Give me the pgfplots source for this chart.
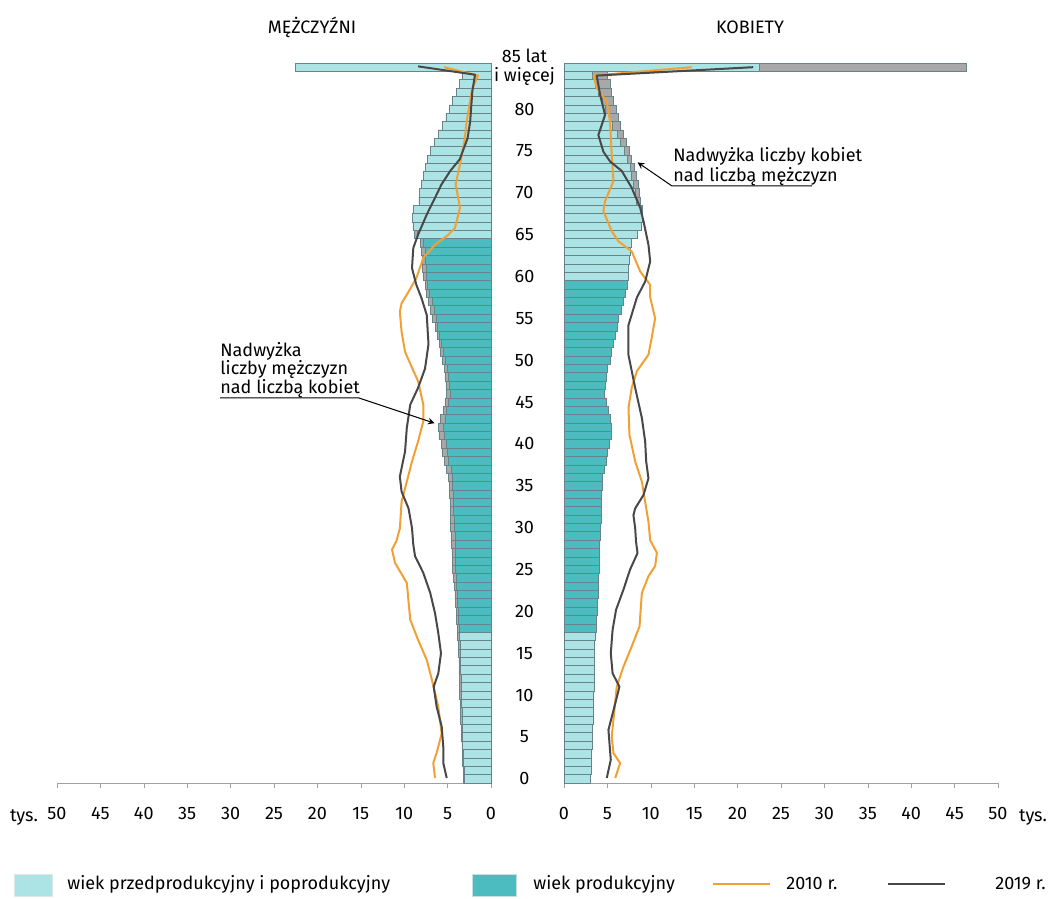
\documentclass[border=0pt]{standalone}
\usepackage{fontspec}
\setmainfont{Fira Sans}
\usepackage{pgfplots}
\usepackage{pgfplotstable}
\pgfplotsset{compat=1.18}

\definecolor{jasny}{RGB}{172,228,229}
\definecolor{morski}{RGB}{76,188,193}
\definecolor{nadwyzka}{RGB}{168,168,168}
\definecolor{obrys}{RGB}{105,132,136}
\definecolor{pom}{RGB}{240,160,52}
\definecolor{ciemny}{RGB}{72,72,72}
\definecolor{osie}{RGB}{160,160,160}

% age, men (M), women (W), common part C = min(M,W) -- tys.
\pgfplotstableread{
age M W C
0 3.15 3.05 3.05
1 3.2 3.1 3.1
2 3.25 3.15 3.15
3 3.3 3.2 3.2
4 3.35 3.25 3.25
5 3.4 3.3 3.3
6 3.45 3.3 3.3
7 3.5 3.35 3.35
8 3.5 3.35 3.35
9 3.55 3.4 3.4
10 3.6 3.4 3.4
11 3.6 3.45 3.45
12 3.65 3.45 3.45
13 3.7 3.5 3.5
14 3.7 3.5 3.5
15 3.75 3.55 3.55
16 3.8 3.55 3.55
17 3.85 3.6 3.6
18 3.9 3.7 3.7
19 3.95 3.75 3.75
20 4.0 3.8 3.8
21 4.1 3.85 3.85
22 4.15 3.9 3.9
23 4.25 3.95 3.95
24 4.3 4.0 4.0
25 4.4 4.05 4.05
26 4.45 4.05 4.05
27 4.5 4.1 4.1
28 4.55 4.1 4.1
29 4.6 4.15 4.15
30 4.65 4.2 4.2
31 4.65 4.25 4.25
32 4.7 4.3 4.3
33 4.7 4.3 4.3
34 4.8 4.35 4.35
35 4.8 4.4 4.4
36 4.9 4.45 4.45
37 5.1 4.6 4.6
38 5.4 4.9 4.9
39 5.6 5.05 5.05
40 5.7 5.2 5.2
41 6.0 5.4 5.4
42 6.1 5.45 5.45
43 5.8 5.3 5.3
44 5.5 5.1 5.1
45 5.3 4.9 4.9
46 5.1 4.7 4.7
47 5.2 4.8 4.8
48 5.3 4.9 4.9
49 5.4 5.05 5.05
50 5.6 5.3 5.3
51 5.8 5.5 5.5
52 5.95 5.7 5.7
53 6.2 5.95 5.95
54 6.45 6.15 6.15
55 6.7 6.3 6.3
56 7.0 6.55 6.55
57 7.2 6.8 6.8
58 7.4 7.1 7.1
59 7.6 7.3 7.3
60 7.8 7.4 7.4
61 7.9 7.45 7.45
62 7.95 7.55 7.55
63 8.0 7.6 7.6
64 8.1 7.8 7.8
65 8.8 8.5 8.5
66 9.0 8.95 8.95
67 9.1 9.05 9.05
68 8.9 9.0 8.9
69 8.3 8.8 8.3
70 8.2 8.7 8.2
71 8.0 8.6 8.0
72 7.8 8.3 7.8
73 7.6 8.1 7.6
74 7.3 7.8 7.3
75 7.0 7.5 7.0
76 6.5 7.2 6.5
77 6.1 6.85 6.1
78 5.6 6.5 5.6
79 5.2 6.3 5.2
80 4.8 6.0 4.8
81 4.4 5.7 4.4
82 4.0 5.5 4.0
83 3.6 5.3 3.6
84 3.3 5.0 3.3
85 22.5 46.3 22.5
}\pir

\pgfplotsset{
  piramida/.style={
    scale only axis, width=217pt, height=360pt,
    xmin=0, xmax=50, ymin=-0.5, ymax=85.5,
    clip=false,
    axis x line=bottom,
    axis line style={-, draw=osie},
    xtick={0,5,...,50},
    tick align=outside,
    major tick length=2.5pt,
    x tick style={draw=osie},
    /pgf/number format/assume math mode=true,
    tick label style={font=\fontsize{9}{10}\selectfont},
    xticklabel style={yshift=-6pt},
    /pgf/bar width=1,
    /pgf/bar shift=0pt,
  },
  slupek/.style={xbar, draw=obrys, line width=0.35pt, fill=#1},
  linia/.style={sharp plot, no marks, line width=1pt, line join=round, color=#1},
}

\begin{document}
\begin{tikzpicture}
\path[use as bounding box] (0,0) rectangle (528pt,449.5pt);

% MEN
\begin{axis}[piramida, at={(28.5pt,58pt)}, anchor=south west,
  x dir=reverse, axis y line=none]
  \addplot[slupek=nadwyzka] table[x=M, y=age]{\pir};
  \addplot[slupek=jasny, restrict y to domain=-1:17.5] table[x=C, y=age]{\pir};
  \addplot[slupek=morski, restrict y to domain=17.5:64.5] table[x=C, y=age]{\pir};
  \addplot[slupek=jasny, restrict y to domain=64.5:86] table[x=C, y=age]{\pir};
  % 2010
  \addplot[linia=pom] coordinates {
    (5.4,85) (1.5,84) (2.15,82.5) (2.8,78.5) (3.07,76.1) (3.57,73.4) (4.07,71)
    (3.57,68.2) (4.15,65.8) (4.9,65) (6.45,63.8) (7.8,62.2) (8.6,59.8) (9.6,58)
    (10.3,56.8) (10.5,55.8) (10.3,53.4) (9.9,51.0) (9.1,49.1) (8.4,47.5) (7.8,44.7)
    (7.8,42.7) (8.4,40.3) (9.1,37.9) (9.7,35.5) (10.3,33.1) (10.5,29.9) (10.9,28.4)
    (11.4,27.4) (11.06,25.8) (9.7,23.4) (9.3,19.0) (8.4,16.6) (7.4,14.2) (6.8,11.8)
    (6.07,8.6) (5.68,5.4) (6.26,3.1) (6.65,1.9) (6.45,0.1)
  };
  % 2019
  \addplot[linia=ciemny] coordinates {
    (8.4,85.1) (1.84,84.1) (2.15,82.1) (2.4,78.5) (2.7,76.5) (3.6,74) (4.7,72.6)
    (5.7,71) (6.45,69.4) (7.4,67.4) (8.4,65) (8.95,63.4) (9.1,61) (8.6,59) (8.0,57.4)
    (7.4,55.4) (7.2,51.9) (7.6,49) (8.4,46.7) (9.3,44.7) (9.7,41.9) (9.9,39.1)
    (10.5,36.1) (10.3,34.3) (9.5,32.3) (9.1,29.95) (8.95,27.96) (8.75,26.6) (7.8,24.6)
    (7.0,22.2) (6.45,19.8) (6.07,17.4) (5.76,15.0) (6.07,12.6) (6.6,11.0) (6.26,8.6)
    (5.68,6.25) (5.5,3.86) (5.5,1.9) (5.1,0.1)
  };
\end{axis}

% WOMEN
\begin{axis}[piramida, at={(282pt,58pt)}, anchor=south west,
  axis y line=left, y axis line style={draw=none}, y tick style={draw=none},
  ytick={0,5,...,85},
  yticklabels={0,5,10,15,20,25,30,35,40,45,50,55,60,65,70,75,80,{85 lat\\i więcej}},
  yticklabel style={align=center, anchor=center, xshift=-18.5pt,
    font=\fontsize{9}{9.5}\selectfont}]
  \addplot[slupek=nadwyzka] table[x=W, y=age]{\pir};
  \addplot[slupek=jasny, restrict y to domain=-1:17.5] table[x=C, y=age]{\pir};
  \addplot[slupek=morski, restrict y to domain=17.5:59.5] table[x=C, y=age]{\pir};
  \addplot[slupek=jasny, restrict y to domain=59.5:86] table[x=C, y=age]{\pir};
  % 2010
  \addplot[linia=pom] coordinates {
    (14.7,85) (3.4,84) (3.77,82.5) (4.93,80.9) (5.3,78.5) (5.5,74.5) (5.7,71.4)
    (4.73,69.0) (4.54,67.8) (5.5,65.4) (6.27,64.2) (7.8,63.0) (8.78,60.6) (9.93,59.0)
    (9.93,57.5) (10.5,55.0) (10.1,52.65) (9.73,50.66) (8.4,48.7) (7.8,46.7) (7.43,44.3)
    (7.54,41.1) (8.2,37.9) (8.97,35.5) (9.35,33.1) (9.73,30.7) (9.93,28.5) (10.7,27.0)
    (10.5,25.4) (9.73,24.2) (8.97,22.2) (8.7,18.2) (7.8,15.8) (6.85,13.4) (6.08,11.0)
    (5.77,7.8) (5.5,5.05) (5.7,3.07) (6.47,1.88) (5.9,0.1)
  };
  % 2019
  \addplot[linia=ciemny] coordinates {
    (21.8,85) (3.77,84) (4.16,81.7) (4.73,79.3) (3.96,76.9) (4.54,74.9) (5.3,73.75)
    (6.66,72.6) (7.8,70.6) (8.78,68.2) (9.16,66.6) (9.73,63.8) (9.93,61.8) (9.35,59.4)
    (8.4,57.5) (7.43,54.2) (7.43,50.6) (8.2,46.7) (8.97,43.1) (9.35,40.3) (9.47,37.9)
    (9.73,35.9) (9.16,33.9) (8.2,32.3) (8.0,31.5) (8.2,29.95) (8.3,28.3) (8.47,26.96)
    (7.6,24.97) (6.85,22.6) (6.0,20.2) (5.6,17.8) (5.39,15.0) (5.6,12.6) (6.39,11.0)
    (6.0,9.4) (5.12,5.85) (5.39,2.27) (4.93,0.1)
  };
\end{axis}

\begin{scope}[font=\fontsize{9}{10}\selectfont]
  % titles
  \node at (156pt,436pt) {MĘŻCZYŹNI};
  \node at (375pt,436pt) {KOBIETY};
  % unit
  \node at (12pt,40.5pt) {tys.};
  \node at (516.5pt,40.5pt) {tys.};
  % annotations
  \node[anchor=west, align=left, inner sep=0pt] at (336.5pt,366pt)
    {Nadwyżka liczby kobiet\\nad liczbą mężczyzn};
  \draw[line width=0.5pt, -stealth] (406pt,356.5pt) -- (336pt,356.5pt) -- (318.8pt,368.3pt);
  \node[anchor=west, align=left, inner sep=0pt, font=\fontsize{9}{9.3}\selectfont]
    at (110pt,264.5pt) {Nadwyżka\\liczby mężczyzn\\nad liczbą kobiet};
  \draw[line width=0.5pt, -stealth] (110pt,250.5pt) -- (179.5pt,250.5pt) -- (217.3pt,237.9pt);
  % legend
  \draw[draw=jasny!80!black!30, fill=jasny] (7pt,1.5pt) rectangle (26pt,12.5pt);
  \node[anchor=west, inner sep=0pt] at (33.5pt,7.5pt) {wiek przedprodukcyjny i poprodukcyjny};
  \draw[draw=morski!80!black!30, fill=morski] (236pt,1.5pt) rectangle (258pt,12.5pt);
  \node[anchor=west, inner sep=0pt] at (266.5pt,7.5pt) {wiek produkcyjny};
  \draw[pom, line width=1pt] (356.5pt,7.5pt) -- (385pt,7.5pt);
  \node[anchor=west, inner sep=0pt] at (393pt,7.5pt) {2010 r.};
  \draw[ciemny, line width=1pt] (444pt,7.5pt) -- (472.5pt,7.5pt);
  \node[anchor=west, inner sep=0pt] at (497.5pt,7.5pt) {2019 r.};
\end{scope}
\end{tikzpicture}
\end{document}
